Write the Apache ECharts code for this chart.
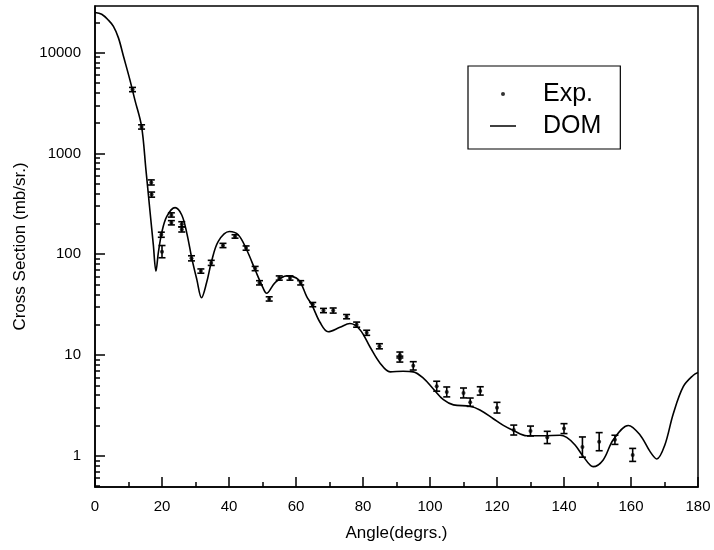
<!DOCTYPE html>
<html lang="en">
<head>
  <meta charset="UTF-8" />
  <title>Cross Section vs Angle</title>
  <script src="https://cdn.jsdelivr.net/npm/echarts@6/dist/echarts.min.js"></script>
  <style>
    html, body { margin: 0; padding: 0; background: #fff; }
    #main { width: 714px; height: 550px; }
  </style>
</head>
<body>
  <div id="main"></div>
  <script type="text/javascript">
    // measured points (angle in degrees, cross section mb/sr, relative error)
    var expAngle = [11.2, 13.9, 16.8, 16.9, 19.8, 20.0, 22.8, 22.8, 25.9, 25.9, 28.8, 31.6, 34.7, 38.2,
      41.8, 45.1, 47.8, 49.1, 52.0, 55.0, 58.2, 61.4, 65.0, 68.2, 71.1, 75.1, 78.1, 81.1, 84.9,
      91.0, 91.0, 95.0, 102.0, 105.0, 110.0, 112.0, 115.0, 120.0, 125.0, 130.0, 135.0, 140.0,
      145.5, 150.5, 155.2, 160.5];
    var expValue = [4300, 1830, 515, 390, 156, 106, 245, 205, 198, 176, 91, 68, 82, 122,
      150, 115, 72, 52, 36, 58, 58, 52, 31.6, 27.6, 27.6, 24, 20, 16.6, 12.2,
      10, 9.1, 7.8, 4.9, 4.3, 4.2, 3.4, 4.4, 3.0, 1.8, 1.76, 1.52, 1.86,
      1.22, 1.38, 1.44, 1.02];
    var expErr = [0.05, 0.05, 0.06, 0.06, 0.06, 0.15, 0.05, 0.05, 0.06, 0.06, 0.06, 0.05, 0.06, 0.05,
      0.04, 0.05, 0.05, 0.05, 0.05, 0.05, 0.05, 0.05, 0.05, 0.05, 0.06, 0.05, 0.06, 0.06, 0.06,
      0.07, 0.07, 0.1, 0.12, 0.12, 0.12, 0.1, 0.1, 0.13, 0.12, 0.12, 0.15, 0.12,
      0.26, 0.23, 0.11, 0.16];

    // DOM calculation curve
    var domAngle = [0, 2, 4, 5.5, 7, 8.5, 10.4, 11.9, 13.9, 15.2, 16.4, 17.4, 18.2, 18.9, 19.9, 21.4,
      23.9, 25.9, 27.4, 28.9, 30.4, 31.8, 33.3, 34.8, 36.8, 40.1, 42.8, 45.3, 47.8, 50.2,
      51.2, 53.7, 57.2, 60.7, 63.2, 64.7, 67.2, 69.6, 73.1, 76.1, 79.1, 82.1, 85.1, 88.1,
      92, 95, 98, 101, 104, 107, 111.9, 114.9, 118.9, 121.9, 124.9, 128.9, 133.8, 138.8,
      140.8, 143.3, 145.8, 148.7, 151.7, 154.7, 159.2, 162.7, 165.7, 167.7, 170.1, 172.6,
      175.6, 178.6, 180];
    var domValue = [25000, 24000, 21000, 18200, 14000, 9200, 5400, 3400, 1850, 690, 270, 125, 68, 103, 162, 236,
      290, 245, 162, 91, 56, 37, 52, 85, 134, 168, 155, 110, 70, 46,
      41, 52, 61, 56, 38, 31.6, 21, 17, 18.8, 20.5, 17.8, 12, 8.3, 6.8,
      6.9, 6.8, 5.9, 4.6, 3.6, 3.2, 3.1, 2.85, 2.33, 2.0, 1.78, 1.58, 1.58, 1.6,
      1.52, 1.28, 0.98, 0.78, 0.91, 1.44, 2.0, 1.61, 1.1, 0.93, 1.28, 2.6,
      4.85, 6.3, 6.7];

    // y axis ticks
    var yMajorTicks = [1, 10, 100, 1000, 10000];
    var yMinorTicks = [0.5, 0.6, 0.7, 0.8, 0.9,
      2, 3, 4, 5, 6, 7, 8, 9,
      20, 30, 40, 50, 60, 70, 80, 90,
      200, 300, 400, 500, 600, 700, 800, 900,
      2000, 3000, 4000, 5000, 6000, 7000, 8000, 9000,
      20000];

    var expData = expAngle.map(function (a, i) { return [a, expValue[i], expErr[i]]; });
    var domData = domAngle.map(function (a, i) { return [a, domValue[i]]; });

    var font = '"Liberation Sans", Arial, sans-serif';
    var myChart = echarts.init(document.getElementById('main'));

    var option = {
      animation: false,
      backgroundColor: '#fff',
      grid: {
        left: 95,
        right: 16,
        top: 6,
        bottom: 63,
        show: true,
        borderColor: '#000',
        borderWidth: 1.5
      },
      legend: {
        orient: 'vertical',
        left: 468,
        top: 66,
        padding: [14, 19, 9, 22],
        itemGap: 4,
        itemWidth: 26,
        itemHeight: 4,
        borderColor: '#000',
        borderWidth: 1.2,
        selectedMode: false,
        textStyle: {
          fontFamily: font,
          fontSize: 25,
          color: '#000',
          lineHeight: 28,
          padding: [0, 0, 0, 22]
        },
        data: [
          { name: 'Exp.', icon: 'circle' },
          { name: 'DOM', icon: 'path://M0 0H52V3H0Z' }
        ]
      },
      xAxis: {
        type: 'value',
        min: 0,
        max: 180,
        interval: 20,
        name: 'Angle(degrs.)',
        nameLocation: 'middle',
        nameGap: 38,
        nameTextStyle: { fontFamily: font, fontSize: 17, color: '#000' },
        axisLine: { lineStyle: { color: '#000', width: 1.5 } },
        axisTick: { inside: true, length: 10, lineStyle: { color: '#000', width: 1.5 } },
        minorTick: { show: true, splitNumber: 2, length: 5, lineStyle: { color: '#000', width: 1.5 } },
        splitLine: { show: false },
        axisLabel: { fontFamily: font, fontSize: 15, color: '#000', margin: 12 }
      },
      yAxis: [
        {
          type: 'log',
          logBase: 10,
          min: 0.49,
          max: 29000,
          name: 'Cross Section (mb/sr.)',
          nameLocation: 'middle',
          nameGap: 64,
          nameTextStyle: { fontFamily: font, fontSize: 17, color: '#000' },
          axisLine: { lineStyle: { color: '#000', width: 1.5 } },
          axisTick: { inside: true, length: 10, customValues: yMajorTicks, lineStyle: { color: '#000', width: 1.5 } },
          splitLine: { show: false },
          axisLabel: {
            fontFamily: font, fontSize: 15, color: '#000', margin: 14,
            customValues: yMajorTicks,
            formatter: function (v) { return String(Math.round(v)); }
          }
        },
        {
          type: 'log',
          logBase: 10,
          min: 0.49,
          max: 29000,
          position: 'left',
          axisLine: { show: false },
          axisTick: { inside: true, length: 5, customValues: yMinorTicks, lineStyle: { color: '#000', width: 1.5 } },
          axisLabel: { show: false },
          splitLine: { show: false }
        }
      ],
      series: [
        {
          name: 'DOM',
          type: 'line',
          data: domData,
          smooth: 0.35,
          symbol: 'circle',
          showSymbol: false,
          lineStyle: { color: '#000', width: 1.6 },
          itemStyle: { color: '#000' },
          z: 3
        },
        {
          name: 'Exp.',
          type: 'scatter',
          data: expData,
          symbol: 'circle',
          symbolSize: 4,
          itemStyle: { color: '#000' },
          z: 5
        },
        {
          name: 'errors',
          type: 'custom',
          data: expData,
          z: 4,
          renderItem: function (params, api) {
            var a = api.value(0);
            var v = api.value(1);
            var e = api.value(2);
            var top = api.coord([a, v * (1 + e)]);
            var bot = api.coord([a, v / (1 + e)]);
            var w = 3.5;
            var st = { stroke: '#000', lineWidth: 1.6 };
            return {
              type: 'group',
              children: [
                { type: 'line', shape: { x1: top[0], y1: top[1], x2: bot[0], y2: bot[1] }, style: st },
                { type: 'line', shape: { x1: top[0] - w, y1: top[1], x2: top[0] + w, y2: top[1] }, style: st },
                { type: 'line', shape: { x1: bot[0] - w, y1: bot[1], x2: bot[0] + w, y2: bot[1] }, style: st }
              ]
            };
          }
        }
      ]
    };

    myChart.setOption(option);
  </script>
</body>
</html>
